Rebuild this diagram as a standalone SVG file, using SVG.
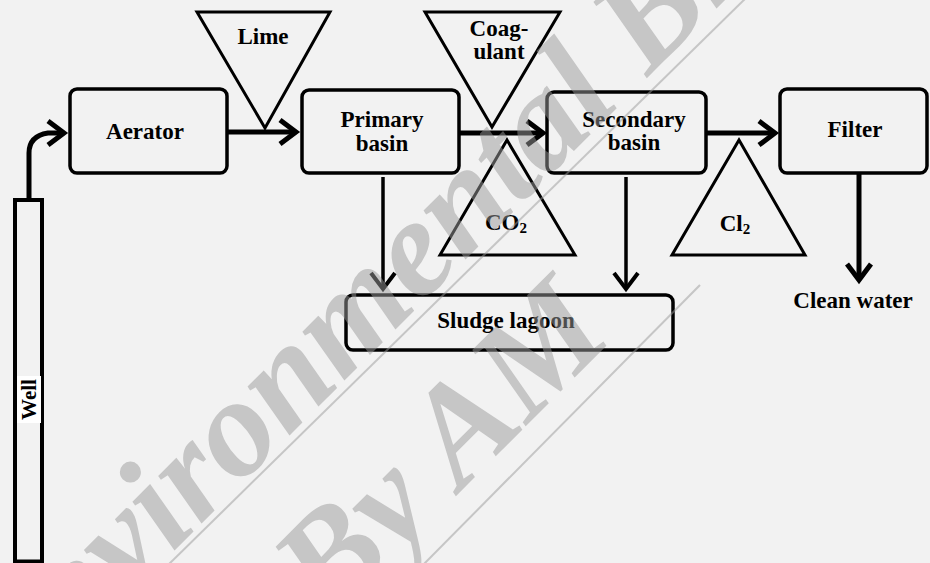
<svg xmlns="http://www.w3.org/2000/svg" width="930" height="563" viewBox="0 0 930 563">
<defs>
<style>
.box{fill:none;stroke:#000;stroke-width:3.5}
.tri{fill:none;stroke:#000;stroke-width:3;stroke-linejoin:miter}
.lbl{font-family:"Liberation Serif","Times New Roman",serif;font-weight:bold;font-size:23px;fill:#000;text-anchor:middle}
.sub{font-size:15px}
.flow{fill:none;stroke:#000;stroke-width:5}
.drop{fill:none;stroke:#000;stroke-width:3.5}
.wm{font-family:"Liberation Serif","Times New Roman",serif;font-weight:bold;font-style:italic;font-size:140px;fill:#9a9a9a;fill-opacity:0.5}
.wml{stroke:#9a9a9a;stroke-opacity:0.5;stroke-width:2;fill:none}
</style>
<marker id="ah" markerUnits="userSpaceOnUse" markerWidth="40" markerHeight="40" viewBox="-20 -20 40 40" refX="0" refY="0" orient="auto" overflow="visible">
<path d="M-16,-12 L0,0 L-16,12" fill="none" stroke="#000" stroke-width="5"/>
</marker>
<marker id="ahs" markerUnits="userSpaceOnUse" markerWidth="40" markerHeight="40" viewBox="-20 -20 40 40" refX="0" refY="0" orient="auto" overflow="visible">
<path d="M-16,-12 L0,0 L-16,12" fill="none" stroke="#000" stroke-width="4"/>
</marker>
</defs>
<rect x="0" y="0" width="930" height="563" fill="#f2f2f2"/>

<g id="well">
<rect x="15" y="200" width="27" height="361.5" fill="none" stroke="#000" stroke-width="4"/>
<rect x="17" y="376" width="24" height="47" fill="#fff"/>
<text class="lbl" style="font-size:21px" transform="translate(36,399.5) rotate(-90)">Well</text>
</g>

<g id="aerator">
<rect class="box" x="70" y="89" width="157" height="84" rx="7"/>
<text class="lbl" x="145" y="139">Aerator</text>
</g>

<g id="primary">
<rect class="box" x="302" y="90" width="157" height="83" rx="7"/>
<text class="lbl" x="382" y="127">Primary</text>
<text class="lbl" x="382" y="151">basin</text>
</g>

<g id="secondary">
<rect class="box" x="547" y="92" width="159" height="81" rx="7"/>
<text class="lbl" x="634" y="127">Secondary</text>
<text class="lbl" x="634" y="150">basin</text>
</g>

<g id="filter">
<rect class="box" x="780" y="89" width="147" height="84" rx="7"/>
<text class="lbl" x="855" y="137">Filter</text>
</g>

<g id="sludge">
<rect class="box" x="346" y="295" width="327" height="55" rx="7"/>
<text class="lbl" x="506" y="328">Sludge lagoon</text>
</g>

<g id="lime">
<polygon class="tri" points="197,12 330,12 265,128"/>
<text class="lbl" x="263" y="44">Lime</text>
</g>

<g id="coagulant">
<polygon class="tri" points="425,12 560,12 492,127"/>
<text class="lbl" x="499" y="36">Coag-</text>
<text class="lbl" x="499" y="59">ulant</text>
</g>

<g id="co2">
<polygon class="tri" points="507,140 575,255 440,255"/>
<text class="lbl" x="506" y="230">CO<tspan class="sub" dy="3">2</tspan></text>
</g>

<g id="cl2">
<polygon class="tri" points="739,140 805,255 672,255"/>
<text class="lbl" x="735" y="231">Cl<tspan class="sub" dy="3">2</tspan></text>
</g>

<g id="clean-water">
<text class="lbl" x="853" y="308">Clean water</text>
</g>

<g id="connectors">
<path class="flow" d="M29,200 L29,153 Q29,136 48,133 L64,133" marker-end="url(#ah)"/>
<path class="flow" d="M227,132 L296,132" marker-end="url(#ah)"/>
<path class="flow" d="M459,133 L543,133" marker-end="url(#ah)"/>
<path class="flow" d="M706,133 L775,133" marker-end="url(#ah)"/>
<path class="drop" d="M383,177 L383,289" marker-end="url(#ahs)"/>
<path class="drop" d="M626,177 L626,289" marker-end="url(#ahs)"/>
<path class="flow" d="M859,173 L859,280" marker-end="url(#ah)"/>
</g>

<g id="watermark">
<text class="wm" transform="translate(7,718) rotate(-45)">Environmental Bio</text>
<text class="wm" transform="translate(330,622) rotate(-45)">By AM</text>
<line class="wml" x1="165" y1="568" x2="750" y2="-6"/>
<line class="wml" x1="420" y1="568" x2="700" y2="285"/>
</g>
</svg>
